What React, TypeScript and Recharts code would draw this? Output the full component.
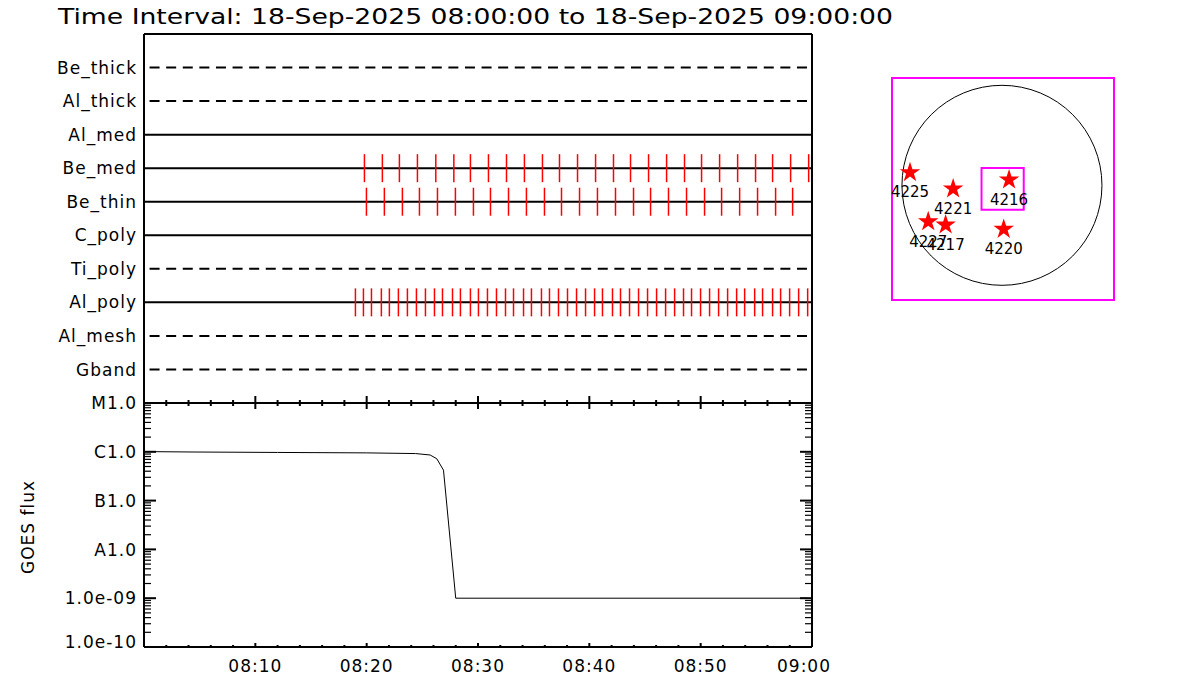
import React from 'react';
import {
  ComposedChart,
  LineChart,
  ScatterChart,
  Line,
  Scatter,
  XAxis,
  YAxis,
  ZAxis,
  ReferenceLine,
  ReferenceArea,
  ReferenceDot,
  Symbols,
} from 'recharts';

const FONT = '"DejaVu Sans", sans-serif';

const TITLE = 'Time Interval: 18-Sep-2025 08:00:00 to 18-Sep-2025 09:00:00';

// time axis, minutes after 08:00
const TIME_TICKS = [0, 2, 4, 6, 8, 10, 12, 14, 16, 18, 20, 22, 24, 26, 28, 30, 32, 34, 36, 38, 40, 42, 44, 46, 48, 50, 52, 54, 56, 58, 60];
const TIME_LABEL_AT = [10, 20, 30, 40, 50, 60];
const TIME_LABELS = ['08:10', '08:20', '08:30', '08:40', '08:50', '09:00'];

// filter rows, bottom to top
const FILTERS = ['Gband', 'Al_mesh', 'Al_poly', 'Ti_poly', 'C_poly', 'Be_thin', 'Be_med', 'Al_med', 'Al_thick', 'Be_thick'];
const FILTER_DASHED = [true, true, false, true, false, false, false, false, true, true];

// exposure times (minutes after 08:00)
const BE_MED_EXP = [19.8, 21.41, 22.94, 24.56, 26.21, 27.83, 29.32, 30.94, 32.56, 34.17, 35.79, 37.32, 38.94, 40.56, 42.17, 43.7, 45.32, 46.94, 48.55, 50.08, 51.7, 53.32, 54.93, 56.46, 58.08, 59.7];
const BE_THIN_EXP = [19.98, 21.59, 23.21, 24.74, 26.36, 27.97, 29.59, 31.12, 32.74, 34.35, 35.97, 37.5, 39.12, 40.73, 42.35, 43.97, 45.5, 47.11, 48.73, 50.35, 51.88, 53.5, 55.11, 56.73, 58.26];
const AL_POLY_EXP = [18.99, 19.71, 20.43, 21.32, 22.04, 22.85, 23.66, 24.47, 25.28, 26.09, 26.81, 27.71, 28.42, 29.32, 30.04, 30.85, 31.66, 32.47, 33.19, 34.09, 34.8, 35.7, 36.42, 37.23, 38.04, 38.85, 39.66, 40.47, 41.18, 42.08, 42.8, 43.61, 44.42, 45.23, 46.04, 46.85, 47.66, 48.46, 49.18, 49.99, 50.8, 51.61, 52.42, 53.23, 53.95, 54.85, 55.56, 56.46, 57.18, 57.99, 58.8, 59.61];

// GOES light curve
const GOES_TIME = [0, 4.4, 12, 20, 24.4, 25.7, 26.3, 26.9, 28.0, 45, 59.6];
const GOES_FLUX = [1.01e-6, 0.99e-6, 0.97e-6, 0.95e-6, 0.92e-6, 0.86e-6, 0.72e-6, 0.42e-6, 1.0e-9, 1.0e-9, 1.0e-9];
const GOES_DECADES = [1e-10, 1e-9, 1e-8, 1e-7, 1e-6, 1e-5];
const GOES_LABELS = ['1.0e-10', '1.0e-09', 'A1.0', 'B1.0', 'C1.0', 'M1.0'];
const MINOR_STEPS = [1, 2, 3, 4, 5, 6, 7, 8, 9];

// active regions on the disk (arcsec)
const AR_NAMES = ['4225', '4221', '4216', '4227', '4217', '4220'];
const AR_X = [-878, -466, 68, -704, -538, 17];
const AR_Y = [122, -33, 52, -345, -376, -417];
const FOV_X = [-195, 208];
const FOV_Y = [-233, 164];
const R_SUN = 955;

const expRows = (times: number[], row: number) => times.map((t) => ({ t, y: row }));
const goesData = GOES_TIME.map((t, i) => ({ t, flux: GOES_FLUX[i] }));
const goesTicks: number[] = [];
GOES_DECADES.slice(0, -1).forEach((d) => MINOR_STEPS.forEach((m) => goesTicks.push(d * m)));
goesTicks.push(GOES_DECADES[GOES_DECADES.length - 1]);
const arData = AR_NAMES.map((name, i) => ({ name, x: AR_X[i], y: AR_Y[i] }));

const txt = { fontFamily: FONT, fontSize: 17, letterSpacing: 1, fill: '#000' };
const axisLine = { stroke: '#000', strokeWidth: 2 };

const xTick = (dir: number, minorLen: number, majorLen: number, withLabel: boolean) =>
  function Tick(props: any) {
    const { x, y, payload } = props;
    const v = payload.value;
    const major = v % 10 === 0;
    const li = TIME_LABEL_AT.indexOf(v);
    return (
      <g>
        <line x1={x} x2={x} y1={y} y2={y + dir * (major ? majorLen : minorLen)} stroke="#000" strokeWidth={2} />
        {withLabel && li >= 0 ? (
          <text x={v === 60 ? x - 8 : x} y={y + 25} textAnchor="middle" {...txt}>
            {TIME_LABELS[li]}
          </text>
        ) : null}
      </g>
    );
  };

const filterTick = (props: any) => {
  const { x, y, payload } = props;
  return (
    <text x={x - 7} y={y} dy="0.36em" textAnchor="end" {...txt}>
      {FILTERS[payload.value - 1]}
    </text>
  );
};

const goesTick = (side: number, withLabel: boolean) =>
  function Tick(props: any) {
    const { x, y, payload } = props;
    const di = GOES_DECADES.findIndex((d) => Math.abs(payload.value / d - 1) < 1e-6);
    const major = di >= 0;
    return (
      <g>
        <line x1={x} x2={x + side * (major ? 12 : 7)} y1={y} y2={y} stroke="#000" strokeWidth={major ? 2 : 1.2} />
        {withLabel && major ? (
          <text x={x - 7} y={di === 0 ? y - 5 : y} dy="0.36em" textAnchor="end" {...txt}>
            {GOES_LABELS[di]}
          </text>
        ) : null}
      </g>
    );
  };

const expShape = (props: any) => {
  const { cx, cy } = props;
  return <line x1={cx} x2={cx} y1={cy - 14} y2={cy + 14} stroke="#ff0000" strokeWidth={1.5} />;
};

const starShape = (props: any) => {
  const { cx, cy, payload } = props;
  return (
    <g>
      <Symbols type="star" size={130} cx={cx} cy={cy} fill="#ff0000" stroke="none" />
      <text x={cx} y={cy + 25} textAnchor="middle" fontFamily={FONT} fontSize={15} fill="#000">
        {payload.name}
      </text>
    </g>
  );
};

// disk plot geometry
const DISK_W = 250;
const DISK_H = 240;
const DISK_MARGIN = { top: 8, right: 16, bottom: 10, left: 12 };
const X_DOM = [-1050, 1070];
const Y_DOM = [-1090, 1020];
const pxPerArcsec = (DISK_W - DISK_MARGIN.left - DISK_MARGIN.right) / (X_DOM[1] - X_DOM[0]);

export default function App() {
  return (
    <div style={{ position: 'absolute', left: 0, top: 0, width: 1200, height: 700, background: '#fff' }}>
      <svg width={1200} height={700} style={{ position: 'absolute', left: 0, top: 0 }}>
        <text x={58} y={24} fontFamily={FONT} fontSize={22} textLength={835} lengthAdjust="spacingAndGlyphs" fill="#000">
          {TITLE}
        </text>
        <text x={28} y={527} dy="0.36em" textAnchor="middle" transform="rotate(-90 28 527)" {...txt}>
          GOES flux
        </text>
      </svg>

      <div style={{ position: 'absolute', left: 0, top: 0 }}>
        <ComposedChart width={830} height={410} margin={{ top: 33, right: 17, bottom: 6, left: 0 }}>
          <XAxis xAxisId="b" dataKey="t" type="number" domain={[0, 60]} ticks={TIME_TICKS} interval={0}
            orientation="bottom" height={1} tickSize={0} tickMargin={0} tickLine={false}
            tick={xTick(-1, 3, 7, false)} axisLine={axisLine} />
          <XAxis xAxisId="t" dataKey="t" type="number" domain={[0, 60]} ticks={TIME_TICKS} interval={0}
            orientation="top" height={1} tickSize={0} tickMargin={0} tickLine={false}
            tick={xTick(1, 3, 7, false)} axisLine={axisLine} />
          <YAxis yAxisId="l" dataKey="y" type="number" domain={[0, 11]} ticks={[1, 2, 3, 4, 5, 6, 7, 8, 9, 10]}
            interval={0} width={144} tickSize={0} tickMargin={0} tickLine={false} tick={filterTick} axisLine={axisLine} />
          <YAxis yAxisId="r" dataKey="y" type="number" domain={[0, 11]} orientation="right" width={1}
            ticks={[0]} tickSize={0} tickMargin={0} tick={false} tickLine={false} axisLine={axisLine} />
          {FILTERS.map((f, i) => (
            <ReferenceLine
              key={f}
              xAxisId="b"
              yAxisId="l"
              segment={[{ x: FILTER_DASHED[i] ? 0.5 : 0, y: i + 1 }, { x: 60, y: i + 1 }]}
              stroke="#000"
              strokeWidth={2}
              strokeDasharray={FILTER_DASHED[i] ? '10 6.6' : undefined}
            />
          ))}
          <Scatter xAxisId="b" yAxisId="l" data={expRows(BE_MED_EXP, 7)} shape={expShape} isAnimationActive={false} />
          <Scatter xAxisId="b" yAxisId="l" data={expRows(BE_THIN_EXP, 6)} shape={expShape} isAnimationActive={false} />
          <Scatter xAxisId="b" yAxisId="l" data={expRows(AL_POLY_EXP, 3)} shape={expShape} isAnimationActive={false} />
        </ComposedChart>
      </div>

      <div style={{ position: 'absolute', left: 0, top: 380 }}>
        <LineChart width={830} height={315} data={goesData} margin={{ top: 22, right: 17, bottom: 47, left: 0 }}>
          <XAxis xAxisId="b" dataKey="t" type="number" domain={[0, 60]} ticks={TIME_TICKS} interval={0}
            orientation="bottom" height={1} tickSize={0} tickMargin={0} tickLine={false}
            tick={xTick(-1, 2, 4, true)} axisLine={axisLine} />
          <XAxis xAxisId="t" dataKey="t" type="number" domain={[0, 60]} ticks={TIME_TICKS} interval={0}
            orientation="top" height={1} tickSize={0} tickMargin={0} tickLine={false}
            tick={xTick(1, 3, 6, false)} axisLine={axisLine} />
          <YAxis yAxisId="l" type="number" scale="log" domain={[1e-10, 1e-5]} allowDataOverflow ticks={goesTicks}
            interval={0} width={144} tickSize={0} tickMargin={0} tickLine={false} tick={goesTick(1, true)} axisLine={axisLine} />
          <YAxis yAxisId="r" type="number" scale="log" domain={[1e-10, 1e-5]} allowDataOverflow ticks={goesTicks}
            interval={0} orientation="right" width={1} tickSize={0} tickMargin={0} tickLine={false}
            tick={goesTick(-1, false)} axisLine={axisLine} />
          <Line xAxisId="b" yAxisId="l" dataKey="flux" type="linear" stroke="#000" strokeWidth={1}
            dot={false} isAnimationActive={false} />
        </LineChart>
      </div>

      <div style={{ position: 'absolute', left: 880, top: 70 }}>
        <ScatterChart width={DISK_W} height={DISK_H} margin={DISK_MARGIN}>
          <XAxis dataKey="x" type="number" domain={X_DOM} hide />
          <YAxis dataKey="y" type="number" domain={Y_DOM} hide />
          <ZAxis range={[130, 130]} />
          <ReferenceArea x1={X_DOM[0]} x2={X_DOM[1]} y1={Y_DOM[0]} y2={Y_DOM[1]} fill="none" fillOpacity={0}
            stroke="#ff00ff" strokeWidth={2} />
          <ReferenceDot x={0} y={0} r={R_SUN * pxPerArcsec} fill="none" stroke="#000" strokeWidth={1} />
          <ReferenceArea x1={FOV_X[0]} x2={FOV_X[1]} y1={FOV_Y[0]} y2={FOV_Y[1]} fill="none" fillOpacity={0}
            stroke="#ff00ff" strokeWidth={2} />
          <Scatter data={arData} shape={starShape} isAnimationActive={false} />
        </ScatterChart>
      </div>
    </div>
  );
}
